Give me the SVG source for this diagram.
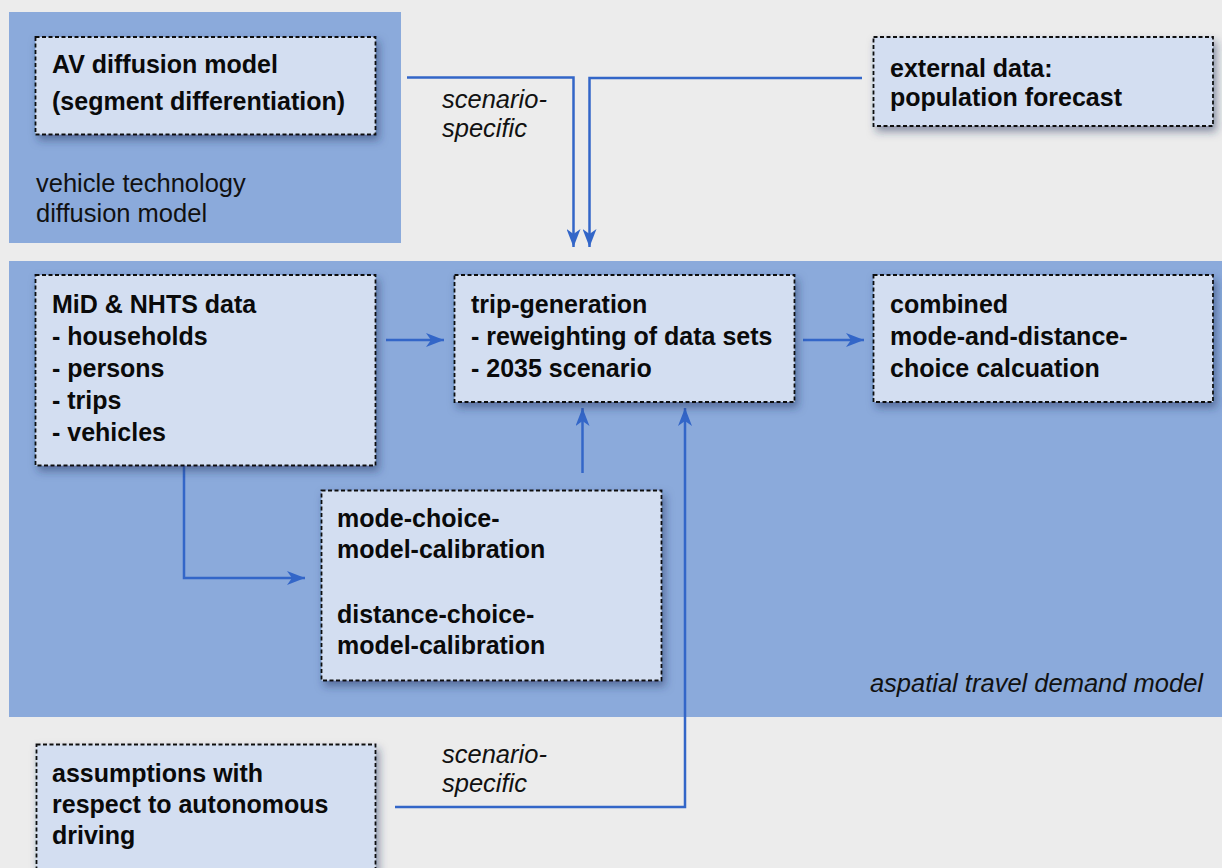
<svg xmlns="http://www.w3.org/2000/svg" width="1222" height="868" viewBox="0 0 1222 868">
<defs>
<filter id="sh" x="-10%" y="-10%" width="130%" height="140%">
<feDropShadow dx="3" dy="5" stdDeviation="4" flood-color="#1c2f5c" flood-opacity="0.5"/>
</filter>
<marker id="ah" viewBox="0 0 18 14" refX="18" refY="7" markerWidth="18" markerHeight="14" markerUnits="userSpaceOnUse" orient="auto">
<path d="M0,0 L18,7 L0,14 L5,7 z" fill="#3366C8"/>
</marker>
<style>
.bg{fill:#ECECEC}
.area{fill:#8BAADB}
.box{fill:#D3DEF1;stroke:#111;stroke-width:1.8;stroke-dasharray:4 2.5;filter:url(#sh)}
.b{font-family:"Liberation Sans",Arial,sans-serif;font-weight:bold;font-size:25px;fill:#0a0a0a}
.r{font-family:"Liberation Sans",Arial,sans-serif;font-size:25.5px;fill:#111}
.i{font-family:"Liberation Sans",Arial,sans-serif;font-style:italic;font-size:25.5px;fill:#111}
.c{fill:none;stroke:#3366C8;stroke-width:2.5}
</style>
</defs>
<rect class="bg" x="0" y="0" width="1222" height="868"/>
<g id="area-vehicle">
<rect class="area" x="9" y="12" width="392" height="231"/>
<text class="r" x="36" y="192">vehicle technology</text>
<text class="r" x="36" y="222">diffusion model</text>
</g>
<g id="area-demand">
<rect class="area" x="9" y="261" width="1213" height="456"/>
<text class="i" x="1203" y="692" text-anchor="end">aspatial travel demand model</text>
</g>
<g id="connectors">
<path class="c" d="M407,77.5 H573.5 V247" marker-end="url(#ah)"/>
<path class="c" d="M862,78 H589.5 V247" marker-end="url(#ah)"/>
<path class="c" d="M386,340 H444" marker-end="url(#ah)"/>
<path class="c" d="M803,340 H864" marker-end="url(#ah)"/>
<path class="c" d="M184,465 V578 H305" marker-end="url(#ah)"/>
<path class="c" d="M582.5,473 V408" marker-end="url(#ah)"/>
<path class="c" d="M395,807 H685 V408" marker-end="url(#ah)"/>
<text class="i" x="442" y="108">scenario-</text>
<text class="i" x="442" y="137">specific</text>
<text class="i" x="442" y="763">scenario-</text>
<text class="i" x="442" y="792">specific</text>
</g>
<g id="av-diffusion">
<rect class="box" x="35.5" y="37" width="340" height="97.5"/>
<text class="b" x="52" y="73">AV diffusion model</text>
<text class="b" x="52" y="110">(segment differentiation)</text>
</g>
<g id="external-data">
<rect class="box" x="873.5" y="37" width="339.5" height="89"/>
<text class="b" x="890" y="77">external data:</text>
<text class="b" x="890" y="106">population forecast</text>
</g>
<g id="mid-nhts">
<rect class="box" x="35.5" y="275" width="340" height="190.5"/>
<text class="b" x="52" y="313">MiD &amp; NHTS data</text>
<text class="b" x="52" y="345">- households</text>
<text class="b" x="52" y="377">- persons</text>
<text class="b" x="52" y="409">- trips</text>
<text class="b" x="52" y="441">- vehicles</text>
</g>
<g id="trip-generation">
<rect class="box" x="454.5" y="275" width="340" height="127"/>
<text class="b" x="471" y="313">trip-generation</text>
<text class="b" x="471" y="345">- reweighting of data sets</text>
<text class="b" x="471" y="377">- 2035 scenario</text>
</g>
<g id="combined">
<rect class="box" x="873.5" y="275" width="339.5" height="127"/>
<text class="b" x="890" y="313">combined</text>
<text class="b" x="890" y="345">mode-and-distance-</text>
<text class="b" x="890" y="377">choice calcuation</text>
</g>
<g id="calibration">
<rect class="box" x="321.5" y="490.5" width="340" height="190"/>
<text class="b" x="337" y="527">mode-choice-</text>
<text class="b" x="337" y="558">model-calibration</text>
<text class="b" x="337" y="623">distance-choice-</text>
<text class="b" x="337" y="654">model-calibration</text>
</g>
<g id="assumptions">
<rect class="box" x="36.5" y="744.5" width="339" height="140"/>
<text class="b" x="52" y="782">assumptions with</text>
<text class="b" x="52" y="813">respect to autonomous</text>
<text class="b" x="52" y="844">driving</text>
</g>
</svg>
